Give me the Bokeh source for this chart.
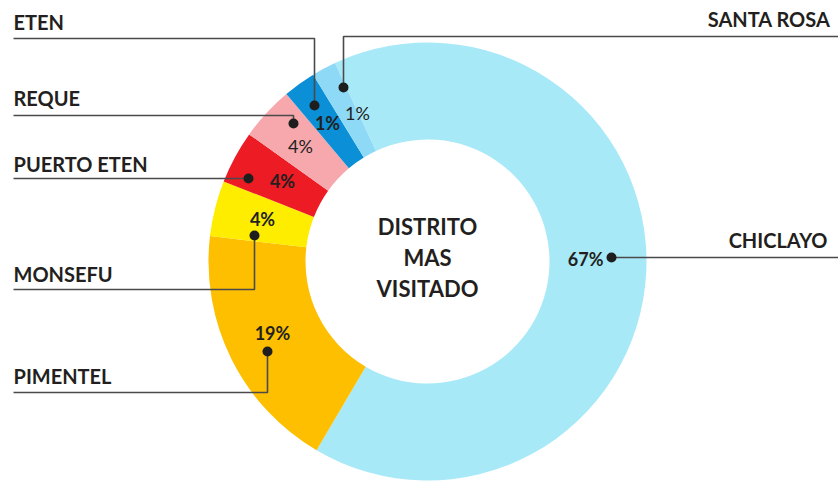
import math
from bokeh.plotting import figure
from bokeh.models import Range1d, ColumnDataSource
from bokeh.core.properties import value
from bokeh.embed import file_html
from bokeh.resources import INLINE

# ---------------- data ----------------
districts = ["CHICLAYO", "PIMENTEL", "MONSEFU", "PUERTO ETEN", "REQUE", "ETEN", "SANTA ROSA"]
shares = [65.4, 18.4, 4.1, 3.9, 4.0, 2.4, 1.8]          # slice sizes
pct_labels = ["67%", "19%", "4%", "4%", "4%", "1%", "1%"]  # printed labels
center_title = ["DISTRITO", "MAS", "VISITADO"]

# ---------------- style / layout (reference pixel coords) ----------------
colors = ["#A8E9F8", "#FDBF00", "#FFED00", "#ED1C24", "#F6A8AD", "#0B8FD6", "#8ED9F6"]
pct_weight = ["bold", "bold", "bold", "bold", "normal", "bold", "normal"]
CX, CY = 427, 261
R_IN, R_OUT = 122, 219
START_CW = 335.0  # degrees clockwise from 12 o'clock where the first slice starts
W, H = 838, 482

dots = [(611, 257), (267, 351), (254, 235), (248, 178), (293, 123), (314, 105), (343, 87)]
pct_pos = [(603, 258, "right"), (272, 332, "center"), (262, 218, "center"), (282, 180, "center"),
           (300, 145, "center"), (327, 122, "center"), (357, 112, "center")]
name_pos = [(827, 239, "right"), (13, 375, "left"), (13, 273, "left"), (13, 163, "left"),
            (13, 97, "left"), (13, 21, "left"), (830, 18, "right")]
name_size = "20px"
leaders = [
    [(611, 257), (838, 257)],
    [(267, 351), (267, 392), (13, 392)],
    [(254, 235), (254, 289), (13, 289)],
    [(248, 178), (13, 178)],
    [(293, 123), (293, 115), (13, 115)],
    [(314, 105), (314, 38), (13, 38)],
    [(343, 87), (343, 36), (838, 36)],
]
title_y = [226, 257, 288]

FONT = "Lato"
TXT = "#231F20"


def fy(y):
    return H - y


p = figure(width=W, height=H, x_axis_type=None, y_axis_type=None, min_border=0,
           toolbar_location=None, output_backend="svg",
           x_range=Range1d(0, W), y_range=Range1d(0, H))
p.outline_line_color = None
p.background_fill_color = "white"
p.border_fill_color = "white"

# wedges
total = sum(shares)
starts, ends = [], []
cw = START_CW
for s in shares:
    span = 360.0 * s / total
    a0 = cw
    a1 = cw + span
    starts.append(math.radians(90 - a1))
    ends.append(math.radians(90 - a0))
    cw = a1

wsrc = ColumnDataSource(dict(x=[CX] * len(shares), y=[fy(CY)] * len(shares),
                             start=starts, end=ends, color=colors))
p.annular_wedge(x="x", y="y", inner_radius=R_IN, outer_radius=R_OUT,
                start_angle="start", end_angle="end", fill_color="color",
                line_color=None, source=wsrc)

# leader lines
p.multi_line(xs=[[pt[0] for pt in l] for l in leaders],
             ys=[[fy(pt[1]) for pt in l] for l in leaders],
             line_color="#4a4a4a", line_width=1.6)
p.scatter(x=[d[0] for d in dots], y=[fy(d[1]) for d in dots], size=10,
          fill_color="#1e1e1e", line_color=None)

# percent labels
for (x, y, al), t, wgt in zip(pct_pos, pct_labels, pct_weight):
    p.text(x=[x], y=[fy(y)], text=[t], text_align=al, text_baseline="middle",
           text_font=value(FONT), text_font_size="18px", text_font_style=wgt,
           text_color=TXT)

# district names
for (x, y, al), t in zip(name_pos, districts):
    p.text(x=[x], y=[fy(y)], text=[t], text_align=al, text_baseline="middle",
           text_font=value(FONT), text_font_size=name_size, text_font_style="bold",
           text_color=TXT)

# center title
p.text(x=[CX] * 3, y=[fy(v) for v in title_y], text=center_title, text_align="center",
       text_baseline="middle", text_font=value(FONT), text_font_size="22px",
       text_font_style="bold", text_color=TXT)

open("out.html", "w").write(file_html(p, INLINE))
